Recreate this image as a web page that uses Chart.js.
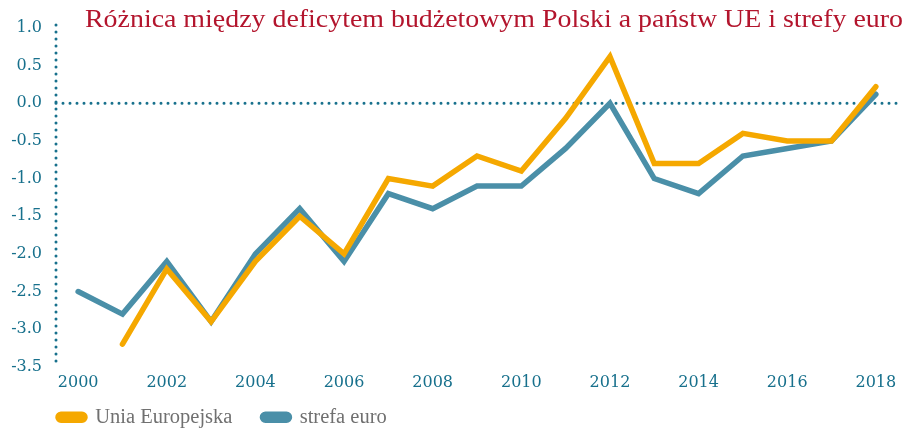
<!doctype html>
<html>
<head>
  <meta charset="utf-8">
  <title>Różnica między deficytem budżetowym</title>
  <script src="https://cdn.jsdelivr.net/npm/chart.js@4/dist/chart.umd.min.js"></script>
  <style>
    html, body { margin: 0; padding: 0; background: #fff; }
    #wrap { width: 908px; height: 428px; }
  </style>
</head>
<body>
  <div id="wrap"><canvas id="deficit-canvas"></canvas></div>
  <script>
    var years = ['2000','2001','2002','2003','2004','2005','2006','2007','2008','2009',
                 '2010','2011','2012','2013','2014','2015','2016','2017','2018'];
    var euValues = [null, -3.2, -2.2, -2.9, -2.1, -1.5, -2.0, -1.0, -1.1, -0.7,
                    -0.9, -0.2, 0.62, -0.8, -0.8, -0.4, -0.5, -0.5, 0.22];
    var euroValues = [-2.5, -2.8, -2.1, -2.9, -2.0, -1.4, -2.1, -1.2, -1.4, -1.1,
                      -1.1, -0.6, 0.0, -1.0, -1.2, -0.7, -0.6, -0.5, 0.12];
    var titleText = 'Różnica między deficytem budżetowym Polski a państw UE i strefy euro';

    var teal = '#17708c';
    var serif = "'Liberation Serif', 'DejaVu Serif', serif";
    var tickFont = "'DejaVu Serif', serif";
    var legendGap = 30;

    // dotted y axis + dotted zero line, title, legend placement
    var decor = {
      id: 'decor',
      afterInit: function(chart) {
        var legend = chart.legend;
        var fit = legend.fit;
        legend.fit = function() {
          fit.call(this);
          this.height = 30;
        };
      },
      afterLayout: function(chart) {
        var legend = chart.legend;
        var dx = 58 - legendGap - legend.left;
        legend.left += dx;
        legend.right += dx;
        legend.top = 417 - legendGap - 10;
        legend.bottom = chart.height;
      },
      beforeDatasetsDraw: function(chart) {
        var ctx = chart.ctx, area = chart.chartArea, y = chart.scales.y;
        ctx.save();
        ctx.strokeStyle = teal;
        ctx.lineWidth = 3;
        ctx.lineCap = 'round';
        ctx.setLineDash([0, 7]);
        ctx.beginPath();
        ctx.moveTo(area.left, area.top - 3);
        ctx.lineTo(area.left, area.bottom - 2);
        ctx.stroke();
        var y0 = y.getPixelForValue(0);
        ctx.beginPath();
        ctx.moveTo(area.left, y0);
        ctx.lineTo(area.right, y0);
        ctx.stroke();
        ctx.restore();
      },
      afterDraw: function(chart) {
        var ctx = chart.ctx;
        ctx.save();
        ctx.fillStyle = '#b3152d';
        ctx.font = '25px ' + serif;
        ctx.textBaseline = 'middle';
        var w = ctx.measureText(titleText).width;
        var target = 818;
        ctx.translate(chart.width - 5 - target, 20);
        ctx.scale(target / w, 1);
        ctx.fillText(titleText, 0, 0);
        ctx.restore();
      }
    };

    var config = {
      type: 'line',
      data: {
        labels: years,
        datasets: [{
          label: 'Unia Europejska',
          data: euValues,
          borderColor: '#f5a800',
          backgroundColor: '#f5a800',
          borderWidth: 5.5,
          pointRadius: 0,
          tension: 0,
          borderJoinStyle: 'miter',
          borderCapStyle: 'round'
        }, {
          label: 'strefa euro',
          data: euroValues,
          borderColor: '#4a8fa8',
          backgroundColor: '#4a8fa8',
          borderWidth: 5.5,
          pointRadius: 0,
          tension: 0,
          borderJoinStyle: 'miter',
          borderCapStyle: 'round'
        }]
      },
      options: {
        responsive: true,
        maintainAspectRatio: false,
        animation: false,
        layout: { padding: { left: 10, right: 10, top: 28, bottom: 0 } },
        scales: {
          x: {
            offset: true,
            grid: { display: false, drawTicks: false },
            border: { display: false },
            ticks: {
              autoSkip: false,
              maxRotation: 0,
              color: teal,
              padding: 6,
              font: { family: tickFont, size: 16 },
              callback: function(val, i) { return i % 2 === 0 ? this.getLabelForValue(val) : ''; }
            }
          },
          y: {
            min: -3.5,
            max: 1.0,
            grid: { display: false, drawTicks: false },
            border: { display: false },
            afterFit: function(scale) { scale.width = 46; },
            ticks: {
              stepSize: 0.5,
              color: teal,
              padding: 14,
              font: { family: tickFont, size: 16 },
              callback: function(v) { return v.toFixed(1); }
            }
          }
        },
        plugins: {
          legend: {
            position: 'bottom',
            align: 'start',
            labels: {
              color: '#707070',
              font: { family: serif, size: 20.5 },
              boxWidth: 27,
              boxHeight: 6,
              useBorderRadius: true,
              borderRadius: 3,
              padding: legendGap
            }
          },
          title: { display: false },
          tooltip: { enabled: false }
        }
      },
      plugins: [decor]
    };

    window.onload = function() {
      var ctx = document.getElementById('deficit-canvas').getContext('2d');
      window.deficitLine = new Chart(ctx, config);
    };
  </script>
</body>
</html>
